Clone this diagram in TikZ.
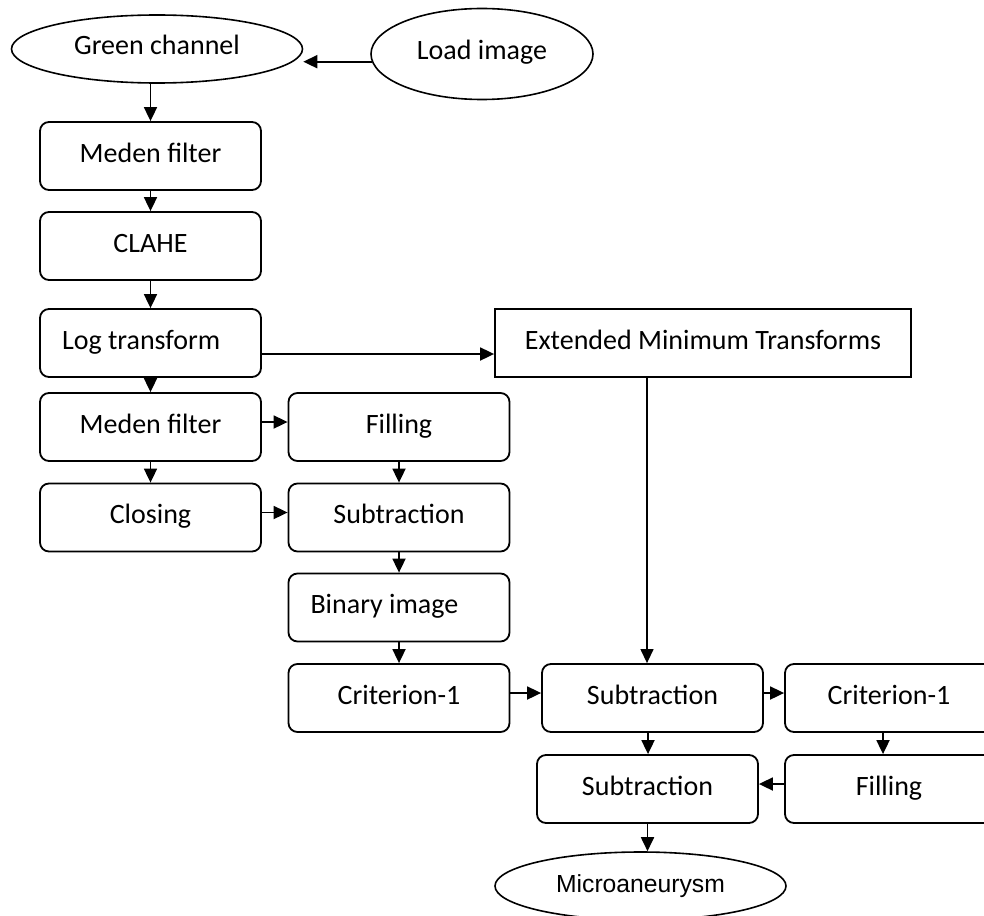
\documentclass[tikz,border=0pt]{standalone}
\usepackage{fontspec}
\setmainfont{Carlito}
\newfontfamily\arialfont{Liberation Sans}
\usetikzlibrary{shapes.geometric, arrows.meta}

\begin{document}
\begin{tikzpicture}
      [
        x=1pt, y=-1pt,
        every node/.style={font=\fontsize{28}{33}\selectfont, text height=20pt, text depth=8pt},
        box/.style={draw, line width=1.8pt, rounded corners=9pt, minimum width=221pt,
          minimum height=68pt, inner sep=0pt},
        leftbox/.style={box, align=flush left, text width=177pt, inner xsep=22pt},
        oval/.style={draw, ellipse, line width=1.6pt, inner sep=0pt},
        link/.style={line width=1.8pt, -{Triangle[length=14pt,width=13pt]}}
      ]
      \path[use as bounding box, clip] (0,0) rectangle (984,915);
      % start
      \node [oval, minimum width=291pt, minimum height=68pt] (green) at (157,49) {Green channel};
      \node [oval, minimum width=222pt, minimum height=91pt] (load) at (482,54) {Load image};
      % first column
      \node [box] (med1) at (150.5,156) {Meden filter};
      \node [box] (clahe) at (150.5,246) {CLAHE};
      \node [leftbox] (logt) at (150.5,343) {Log transform};
      \node [box] (med2) at (150.5,427) {Meden filter};
      \node [box] (clos) at (150.5,517.5) {Closing};
      % second column
      \node [box] (fill1) at (399,427) {Filling};
      \node [box] (sub1) at (399,517.5) {Subtraction};
      \node [leftbox] (bin) at (399,607.5) {Binary image};
      \node [box] (crit1) at (399,698) {Criterion-1};
      % right part
      \node [draw, line width=1.8pt, minimum width=416pt, minimum height=68pt] (ext)
        at (703,343) {Extended Minimum Transforms};
      \node [box] (sub2) at (652.5,698) {Subtraction};
      \node [box, minimum width=208pt] (crit2) at (889,698) {Criterion-1};
      \node [box] (sub3) at (647.5,789) {Subtraction};
      \node [box, minimum width=208pt] (fill2) at (889,789) {Filling};
      \node [oval, minimum width=291pt, minimum height=68pt, font=\arialfont\fontsize{24.7}{29}\selectfont]
        (micro) at (640.5,886) {Microaneurysm};
      % edges
      \draw [link] (load.184) -- (load.184 -| green.east);
      \draw [link] (med1.north |- green.south) -- (med1.north);
      \draw [link] (med1) -- (clahe);
      \draw [link] (clahe) -- (logt);
      \draw [link] (logt) -- (med2);
      \draw [link] (med2) -- (clos);
      \draw [link] ([yshift=-11pt]logt.east) -- ([yshift=-11pt]logt.east -| ext.west);
      \draw [link] ([yshift=5pt]med2.east) -- ([yshift=5pt]med2.east -| fill1.west);
      \draw [link] ([yshift=5pt]clos.east) -- ([yshift=5pt]clos.east -| sub1.west);
      \draw [link] (fill1) -- (sub1);
      \draw [link] (sub1) -- (bin);
      \draw [link] (bin) -- (crit1);
      \draw [link, line width=1.3pt] ([xshift=-56pt]ext.south) -- ([xshift=-56pt]ext.south |- sub2.north);
      \draw [link] ([yshift=5pt]crit1.east) -- ([yshift=5pt]crit1.east -| sub2.west);
      \draw [link] ([yshift=5pt]sub2.east) -- ([yshift=5pt]sub2.east -| crit2.west);
      \draw [link] ([xshift=-4.5pt]sub2.south) -- ([xshift=-4.5pt]sub2.south |- sub3.north);
      \draw [link] ([xshift=-6pt]crit2.south) -- ([xshift=-6pt]crit2.south |- fill2.north);
      \draw [link] ([yshift=5pt]fill2.west) -- ([yshift=5pt]fill2.west -| sub3.east);
      \draw [link] (sub3.south) -- (sub3.south |- micro.north);
    \end{tikzpicture}
\end{document}
